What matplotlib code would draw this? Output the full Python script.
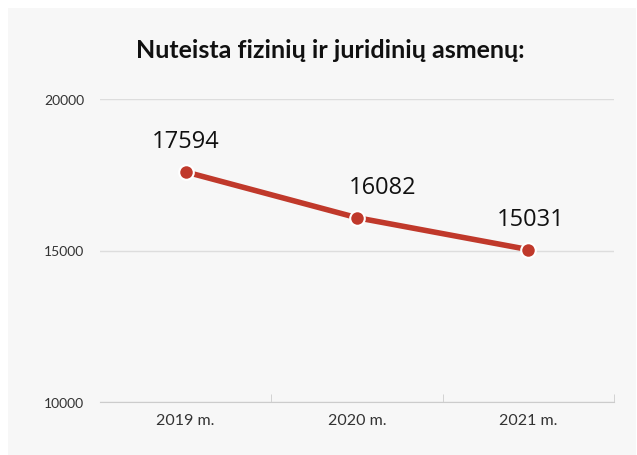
import matplotlib.pyplot as plt
from matplotlib.patches import Rectangle

years = ['2019 m.', '2020 m.', '2021 m.']
values = [17594, 16082, 15031]
y_ticks = [10000, 15000, 20000]
label_dx = [0, 26, 2]  # horizontal nudge of the value labels, px

W, H = 637, 456
fig = plt.figure(figsize=(W / 100, H / 100), dpi=100, facecolor='white')
fig.patches.append(Rectangle((8 / W, 0), (636 - 8) / W, (456 - 9) / H,
                             transform=fig.transFigure, facecolor='#f7f7f7',
                             edgecolor='none', zorder=-10))

ax = fig.add_axes([100 / W, 1 - 403 / H, (614 - 100) / W, (403 - 100) / H])
ax.set_facecolor('none')

x = range(len(years))
ax.plot(x, values, color='#c0392b', lw=4, marker='o', ms=10.5,
        mfc='#c0392b', mec='white', mew=1.5, solid_capstyle='round', zorder=3,
        clip_on=False)
for xi, v, dx in zip(x, values, label_dx):
    ax.annotate(str(v), (xi, v), xytext=(dx * 0.72, 22), textcoords='offset points',
                ha='center', va='center', fontsize=17, family='Open Sans', color='#111111')

ax.set_xlim(-0.5, 2.5)
ax.set_ylim(10000, 20000)
ax.set_yticks(y_ticks)
ax.set_yticklabels([str(t) for t in y_ticks], family='Lato', fontsize=10, color='#333333')
ax.set_xticks(list(x))
ax.set_xticklabels(years, family='Lato', fontsize=11.5, color='#333333')
ax.set_xticks([0.5, 1.5, 2.5], minor=True)
ax.tick_params(axis='x', which='major', length=0, pad=8)
ax.tick_params(axis='x', which='minor', length=6, color='#cccccc', direction='in')
ax.tick_params(axis='y', length=0, pad=11.5)
ax.grid(axis='y', color='#dddddd', lw=1)
for s in ['top', 'right', 'left']:
    ax.spines[s].set_visible(False)
ax.spines['bottom'].set_color('#cccccc')
ax.set_axisbelow(True)

fig.text(330 / W, 1 - 50 / H, 'Nuteista fizinių ir juridinių asmenų:', ha='center', va='center',
         fontsize=18, fontweight='bold', family='Lato', color='#111111')

fig.savefig('out.png', dpi=100, facecolor=fig.get_facecolor())
